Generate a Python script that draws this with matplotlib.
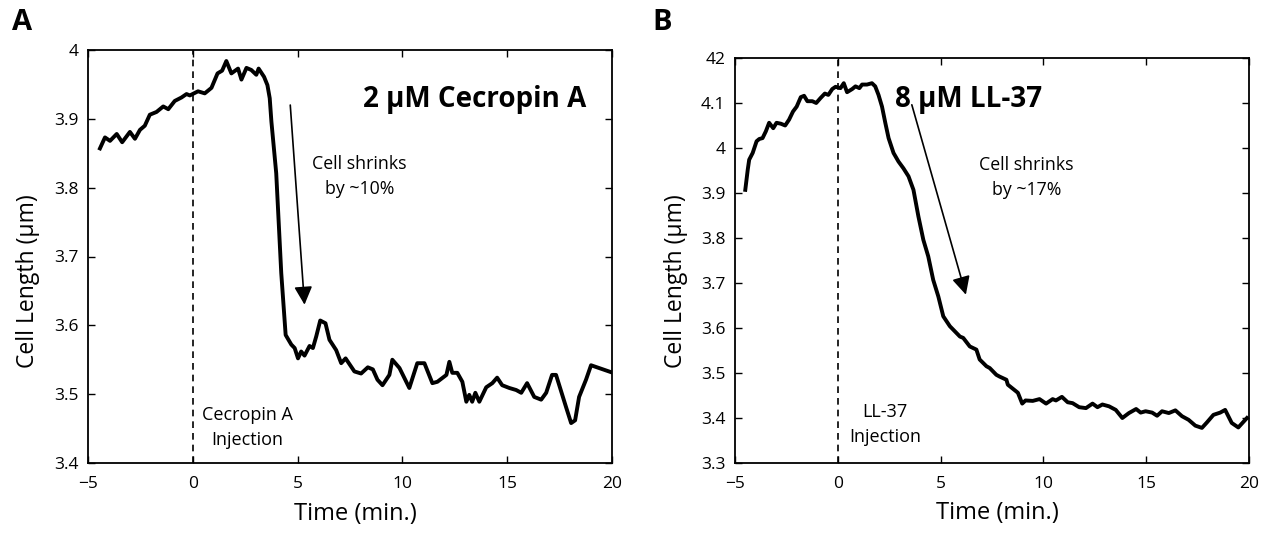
import matplotlib.pyplot as plt

plt.rcParams['font.family'] = ['Open Sans', 'DejaVu Sans']

# Cecropin A trace (time in min, cell length in um)
t_cec = [-4.43, -4.19, -3.95, -3.63, -3.37, -3.0, -2.76, -2.52, -2.29, -2.05,
         -1.73, -1.41, -1.17, -0.86, -0.54, -0.30, -0.14, 0.25, 0.57, 0.89,
         1.18, 1.40, 1.60, 1.84, 2.16, 2.32, 2.56, 2.79, 3.03, 3.14,
         3.40, 3.56, 3.67, 3.75, 3.98, 4.22, 4.43, 4.70, 4.86,
         5.02, 5.17, 5.33, 5.57, 5.73, 5.89, 6.08, 6.33, 6.52, 6.84,
         7.08, 7.29, 7.71, 8.03, 8.35, 8.59, 8.81, 9.05, 9.38, 9.52,
         9.86, 10.33, 10.71, 11.05, 11.43, 11.67, 12.10, 12.24, 12.38, 12.62,
         12.86, 13.05, 13.19, 13.33, 13.48, 13.67, 14.0, 14.29, 14.52, 14.76,
         15.10, 15.43, 15.67, 15.95, 16.29, 16.62, 16.86, 17.14, 17.33, 17.81,
         18.05, 18.24, 18.43, 18.76, 19.0, 19.95]
len_cec = [3.857, 3.873, 3.868, 3.878, 3.866, 3.881, 3.871, 3.884, 3.890, 3.906,
           3.910, 3.918, 3.914, 3.926, 3.931, 3.936, 3.934, 3.940, 3.937, 3.945,
           3.966, 3.970, 3.984, 3.966, 3.973, 3.957, 3.974, 3.971, 3.964, 3.973,
           3.961, 3.949, 3.930, 3.896, 3.821, 3.676, 3.586, 3.572, 3.567,
           3.552, 3.562, 3.556, 3.570, 3.567, 3.584, 3.607, 3.603, 3.579, 3.564,
           3.545, 3.552, 3.533, 3.530, 3.539, 3.536, 3.521, 3.513, 3.528, 3.550,
           3.538, 3.509, 3.545, 3.545, 3.516, 3.518, 3.528, 3.547, 3.531, 3.531,
           3.518, 3.489, 3.499, 3.489, 3.502, 3.489, 3.510, 3.516, 3.524, 3.513,
           3.509, 3.506, 3.502, 3.516, 3.496, 3.492, 3.502, 3.528, 3.528, 3.481,
           3.458, 3.462, 3.496, 3.521, 3.542, 3.532]

# LL-37 trace
t_ll = [-4.50, -4.38, -4.31, -4.14, -3.95, -3.82, -3.66, -3.50, -3.34, -3.14,
        -2.98, -2.77, -2.56, -2.37, -2.18, -2.00, -1.80, -1.64, -1.48, -1.24,
        -1.05, -0.84, -0.63, -0.46, -0.27, -0.11, 0.13, 0.29, 0.45, 0.70,
        0.86, 1.05, 1.18, 1.42, 1.66, 1.82, 1.98, 2.15, 2.31, 2.47,
        2.71, 2.95, 3.19, 3.44, 3.68, 3.92, 4.16, 4.40, 4.64, 4.89,
        5.13, 5.45, 5.94, 6.10, 6.42, 6.74, 6.90, 7.23, 7.39, 7.71,
        7.87, 8.20, 8.27, 8.68, 8.76, 8.97, 9.13, 9.48, 9.81, 10.13,
        10.45, 10.61, 10.90, 11.18, 11.42, 11.74, 12.07, 12.39, 12.63, 12.87,
        13.19, 13.52, 13.84, 14.16, 14.51, 14.73, 14.97, 15.29, 15.53, 15.77,
        16.10, 16.42, 16.74, 17.06, 17.39, 17.71, 17.95, 18.27, 18.60, 18.84,
        19.16, 19.48, 19.90]
len_ll = [3.907, 3.952, 3.974, 3.989, 4.015, 4.020, 4.022, 4.037, 4.056, 4.044,
          4.056, 4.054, 4.050, 4.063, 4.081, 4.092, 4.113, 4.116, 4.104, 4.104,
          4.100, 4.111, 4.121, 4.118, 4.131, 4.136, 4.133, 4.144, 4.124, 4.131,
          4.137, 4.133, 4.141, 4.141, 4.144, 4.137, 4.118, 4.092, 4.056, 4.022,
          3.989, 3.970, 3.955, 3.937, 3.907, 3.848, 3.796, 3.759, 3.707, 3.670,
          3.626, 3.604, 3.581, 3.578, 3.559, 3.552, 3.530, 3.515, 3.511, 3.496,
          3.492, 3.485, 3.474, 3.459, 3.456, 3.432, 3.439, 3.438, 3.442, 3.432,
          3.442, 3.439, 3.447, 3.435, 3.433, 3.424, 3.422, 3.432, 3.424, 3.430,
          3.426, 3.418, 3.400, 3.411, 3.420, 3.412, 3.415, 3.412, 3.405, 3.415,
          3.411, 3.417, 3.404, 3.396, 3.383, 3.378, 3.390, 3.407, 3.412, 3.418,
          3.389, 3.379, 3.400]

x_ticks = [-5, 0, 5, 10, 15, 20]
x_labels = ['\u22125', '0', '5', '10', '15', '20']
y_ticks_a = [3.4, 3.5, 3.6, 3.7, 3.8, 3.9, 4.0]
y_labels_a = ['3.4', '3.5', '3.6', '3.7', '3.8', '3.9', '4']
y_ticks_b = [3.3, 3.4, 3.5, 3.6, 3.7, 3.8, 3.9, 4.0, 4.1, 4.2]
y_labels_b = ['3.3', '3.4', '3.5', '3.6', '3.7', '3.8', '3.9', '4', '4.1', '42']

fig = plt.figure(figsize=(12.66, 5.33), dpi=100)
ax_a = fig.add_axes([88 / 1266, 1 - 463 / 533, 524 / 1266, 413 / 533])
ax_b = fig.add_axes([735 / 1266, 1 - 463 / 533, 514 / 1266, 405 / 533])

arrow_kw = dict(arrowstyle='-|>,head_length=1.1,head_width=0.55',
                color='black', lw=1.2, shrinkA=0, shrinkB=0)


def style_axes(ax, ylim, yticks, ylabels, ylab_y):
    ax.set_xlim(-5, 20)
    ax.set_ylim(*ylim)
    ax.set_xticks(x_ticks)
    ax.set_xticklabels(x_labels)
    ax.set_yticks(yticks)
    ax.set_yticklabels(ylabels)
    ax.tick_params(direction='in', top=True, right=True, length=5, width=1,
                   labelsize=12.5)
    ax.tick_params(axis='x', pad=9)
    ax.tick_params(axis='y', pad=7)
    for s in ax.spines.values():
        s.set_linewidth(1.3)
    ax.set_xlabel('Time (min.)', fontsize=17)
    ax.xaxis.set_label_coords(0.51, -0.095)
    ax.set_ylabel('Cell Length (\u03bcm)', fontsize=16.5)
    ax.yaxis.set_label_coords(-0.092, ylab_y)
    ax.axvline(0, color='black', linestyle=(0, (4, 3)), linewidth=1.2)


# panel A: Cecropin A
style_axes(ax_a, (3.4, 4.0), y_ticks_a, y_labels_a, 0.44)
ax_a.plot(t_cec, len_cec, color='black', linewidth=2.8)
ax_a.text(8.1, 3.928, '2 \u03bcM Cecropin A', fontsize=20, fontweight='bold',
          va='center', ha='left')
ax_a.text(7.95, 3.816, 'Cell shrinks\nby ~10%', fontsize=12.8, ha='center',
          va='center', linespacing=1.5)
ax_a.annotate('', xy=(5.33, 3.630), xytext=(4.65, 3.920), arrowprops=arrow_kw)
ax_a.text(2.6, 3.452, 'Cecropin A\nInjection', fontsize=13, ha='center',
          va='center', linespacing=1.5)

# panel B: LL-37
style_axes(ax_b, (3.3, 4.2), y_ticks_b, y_labels_b, 0.45)
ax_b.plot(t_ll, len_ll, color='black', linewidth=2.8)
ax_b.text(2.79, 4.107, '8 \u03bcM LL-37', fontsize=20, fontweight='bold',
          va='center', ha='left')
ax_b.text(9.18, 3.934, 'Cell shrinks\nby ~17%', fontsize=12.8, ha='center',
          va='center', linespacing=1.5)
ax_b.annotate('', xy=(6.23, 3.674), xytext=(3.60, 4.096), arrowprops=arrow_kw)
ax_b.text(2.3, 3.385, 'LL-37\nInjection', fontsize=13, ha='center',
          va='center', linespacing=1.5)

fig.text(12 / 1266, 1 - 22 / 533, 'A', fontsize=21, fontweight='bold', va='center')
fig.text(652 / 1266, 1 - 22 / 533, 'B', fontsize=21, fontweight='bold', va='center')

fig.savefig('out.png', dpi=100)
